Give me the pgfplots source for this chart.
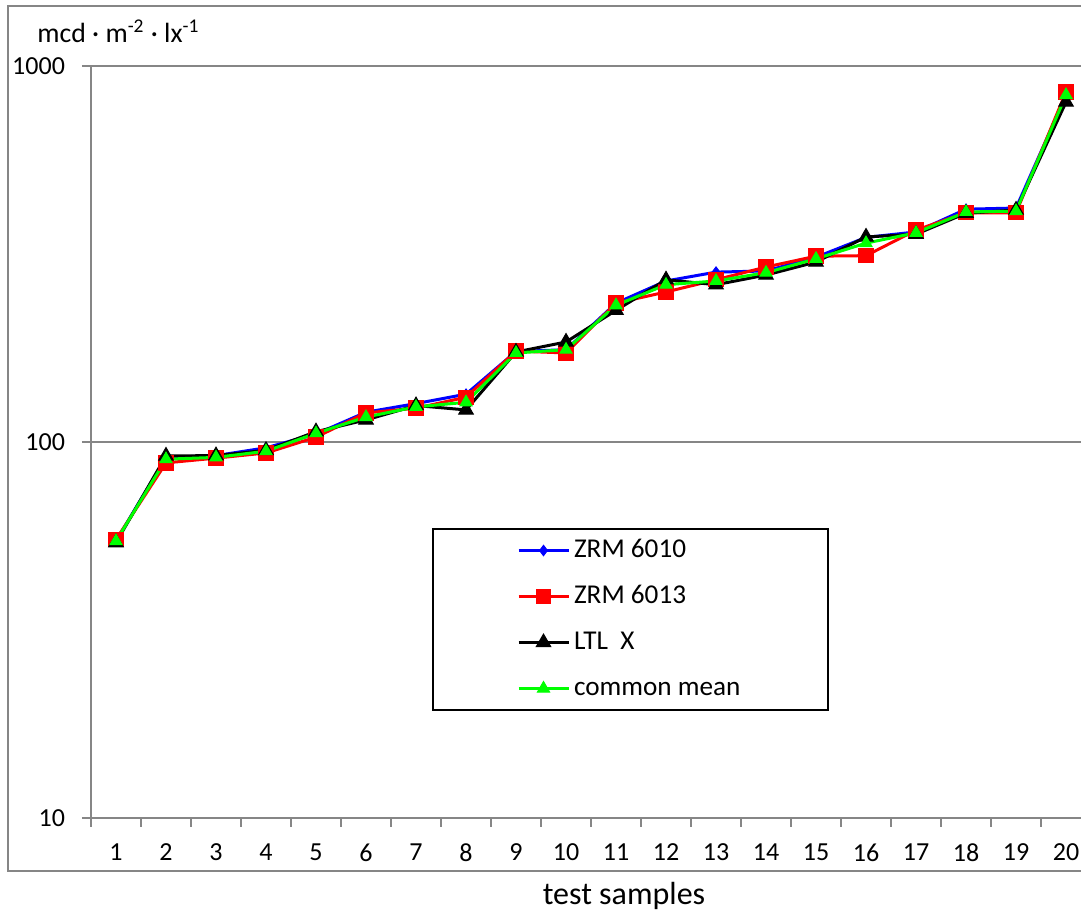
\documentclass[border=0pt]{standalone}
\usepackage{pgfplots}
\pgfplotsset{compat=1.18}
\usepackage{fontspec}
\setmainfont{Carlito}
\definecolor{axgray}{RGB}{134,134,134}
\definecolor{pblue}{RGB}{0,0,255}
\definecolor{pred}{RGB}{255,0,0}
\definecolor{pgreen}{RGB}{0,255,0}

\pgfplotstableread{
x   zrm6010 zrm6013 ltlx  mean
1   54.5    55.0    54.0  54.5
2   91.0    88.0    91.8  90.0
3   92.0    90.6    92.0  91.0
4   96.5    93.5    95.0  94.5
5   105.0   103.0   106.5 105.5
6   120.0   119.5   114.5 116.5
7   126.5   123.0   125.0 124.0
8   134.0   131.5   121.7 127.5
9   174.0   174.5   173.5 172.5
10  176.0   172.5   184.5 176.0
11  234.0   234.0   224.0 231.0
12  268.0   250.6   270.0 262.0
13  283.0   270.0   262.0 268.0
14  285.0   292.0   278.0 282.0
15  310.0   312.0   301.0 307.0
16  350.0   313.0   351.0 338.0
17  362.0   366.0   357.0 360.0
18  416.0   407.0   406.0 409.0
19  419.0   407.0   414.0 411.0
20  835.0   853.0   802.0 837.0
}\datatable

\begin{document}
\begin{tikzpicture}[x=1bp,y=1bp]
\begin{axis}[
  at={(0,0)}, anchor=south west,
  width=500bp, height=376bp, scale only axis,
  xmin=0.5, xmax=20.5, ymin=10, ymax=1000, ymode=log,
  axis x line*=bottom, axis y line*=left,
  axis line style={-, axgray, line width=1bp},
  ymajorgrids, grid style={axgray, line width=1bp},
  ytick={10,100,1000}, yticklabels={10,100,1000},
  yminorticks=false, xminorticks=false,
  xtick={1,...,20},
  xtick style={draw=none},
  ytick style={draw=axgray, line width=1bp},
  tick align=outside, major tick length=4.5bp,
  extra x ticks={0.5,1.5,...,20.5},
  extra x tick labels={},
  extra x tick style={grid=none, xtick style={draw=axgray, line width=1bp}},
  ticklabel style={font=\fontsize{13bp}{15bp}\selectfont},
  /pgf/number format/assume math mode=true,
  xticklabel style={yshift=-5bp},
  yticklabel style={xshift=-5bp},
  legend cell align=left,
  legend image code/.code={\draw[#1,mark repeat=2,mark phase=2] plot coordinates {(0bp,0bp) (12.5bp,0bp) (25bp,0bp)};},
  legend style={at={(axis description cs:0.341,0.3856)}, anchor=north west,
    draw=black, line width=1bp, inner xsep=42bp, inner ysep=2.5bp, row sep=6.5bp,
    nodes={inner sep=2bp, text height=9.5bp, text depth=3bp},
    font=\fontsize{13.6bp}{16bp}\selectfont},
]
\addplot[pblue, line width=1.5bp, mark=diamond*, mark size=2.6bp, mark options={solid, line width=0.5bp}] table[x=x, y=zrm6010] {\datatable};
\addlegendentry{ZRM 6010}
\addplot[pred, line width=1.5bp, mark=square*, mark size=3.6bp, mark options={solid, line width=0.5bp}] table[x=x, y=zrm6013] {\datatable};
\addlegendentry{ZRM 6013}
\addplot[black, line width=1.5bp, mark=triangle*, mark size=4.2bp, mark options={solid, line width=0.5bp}] table[x=x, y=ltlx] {\datatable};
\addlegendentry{LTL\ \ X}
\addplot[pgreen, line width=1.5bp, mark=triangle*, mark size=3.5bp, mark options={solid, line width=0.5bp}] table[x=x, y=mean] {\datatable};
\addlegendentry{common mean}
\end{axis}
\draw[axgray, line width=1bp] (-41.5,406) rectangle (499.5,-26.5);
\node[anchor=base west, inner sep=0, font=\fontsize{13.9bp}{16bp}\selectfont] at (-27,387.5) {mcd · m\textsuperscript{-2} · lx\textsuperscript{-1}};
\node[anchor=base, inner sep=0, font=\fontsize{16bp}{19bp}\selectfont] at (266.5,-43.5) {test samples};
\pgfresetboundingbox
\useasboundingbox (-45.5,-47.5) rectangle (495,409);
\end{tikzpicture}
\end{document}
